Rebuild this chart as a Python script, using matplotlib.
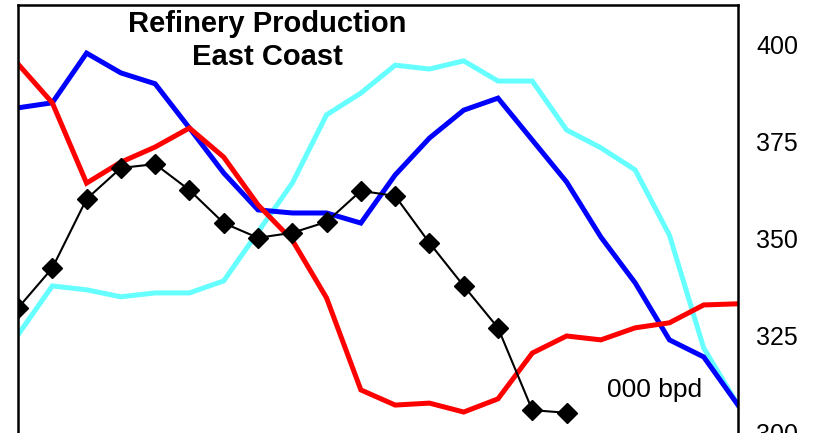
import matplotlib
matplotlib.use("Agg")
import matplotlib.pyplot as plt
import numpy as np

plt.rcParams['font.family'] = ['Liberation Sans', 'DejaVu Sans']

periods = list(range(22))
black_vals = [332.2, 342.5, 360.3, 368.3, 369.3, 362.6, 354.1, 350.3, 351.6, 354.4,
              362.4, 361.1, 349.0, 337.9, 327.1, 305.9, 305.2]
red_vals = [395.1, 385.1, 364.4, 369.8, 373.7, 378.6, 371.1, 358.8, 349.7, 334.8,
            311.1, 307.2, 307.7, 305.4, 308.8, 320.6, 325.0, 324.0, 327.1, 328.4,
            333.0, 333.3]
blue_vals = [383.8, 385.1, 397.9, 392.8, 390.0, 378.6, 367.0, 357.5, 356.7, 356.7,
             354.1, 366.5, 376.0, 383.2, 386.3, 375.5, 364.7, 350.5, 338.7, 324.0,
             319.6, 307.2]
cyan_vals = [325.3, 337.9, 336.9, 335.1, 336.1, 336.1, 339.2, 351.8, 364.4, 382.0,
             387.6, 394.8, 393.8, 395.9, 390.7, 390.7, 378.1, 373.5, 367.8, 351.0,
             321.9, 307.2]
y_ticks = [300, 325, 350, 375, 400]

W, H = 817, 433
fig = plt.figure(figsize=(W / 100, H / 100), dpi=100)
ax = fig.add_axes([18 / W, 0, (738 - 18) / W, (433 - 5) / H])

ax.plot(periods, cyan_vals, color='#66FFFF', lw=3.6, solid_joinstyle='miter')
ax.plot(periods, blue_vals, color='#0000FF', lw=3.6, solid_joinstyle='miter')
ax.plot(periods, red_vals, color='#FF0000', lw=3.6, solid_joinstyle='miter')
ax.plot(periods[:len(black_vals)], black_vals, color='black', lw=1.5,
        marker='D', markersize=10.5, markerfacecolor='black', markeredgecolor='black')

ax.set_xlim(0, 21)
ax.set_ylim(300, 410.3)
ax.set_xticks([])
ax.yaxis.tick_right()
ax.set_yticks(y_ticks)
ax.tick_params(axis='y', length=0, pad=13, labelsize=18)
for s in ['left', 'right', 'top']:
    ax.spines[s].set_linewidth(1.8)
ax.spines['bottom'].set_visible(False)

ax.text(267 / W, 1 - 24 / H, 'Refinery Production', transform=fig.transFigure,
        ha='center', va='center', fontsize=21, fontweight='bold')
ax.text(267 / W, 1 - 57 / H, 'East Coast', transform=fig.transFigure,
        ha='center', va='center', fontsize=21, fontweight='bold')
ax.text(655 / W, 1 - 390 / H, '000 bpd', transform=fig.transFigure,
        ha='center', va='center', fontsize=19)

fig.savefig('out.png', dpi=100)
